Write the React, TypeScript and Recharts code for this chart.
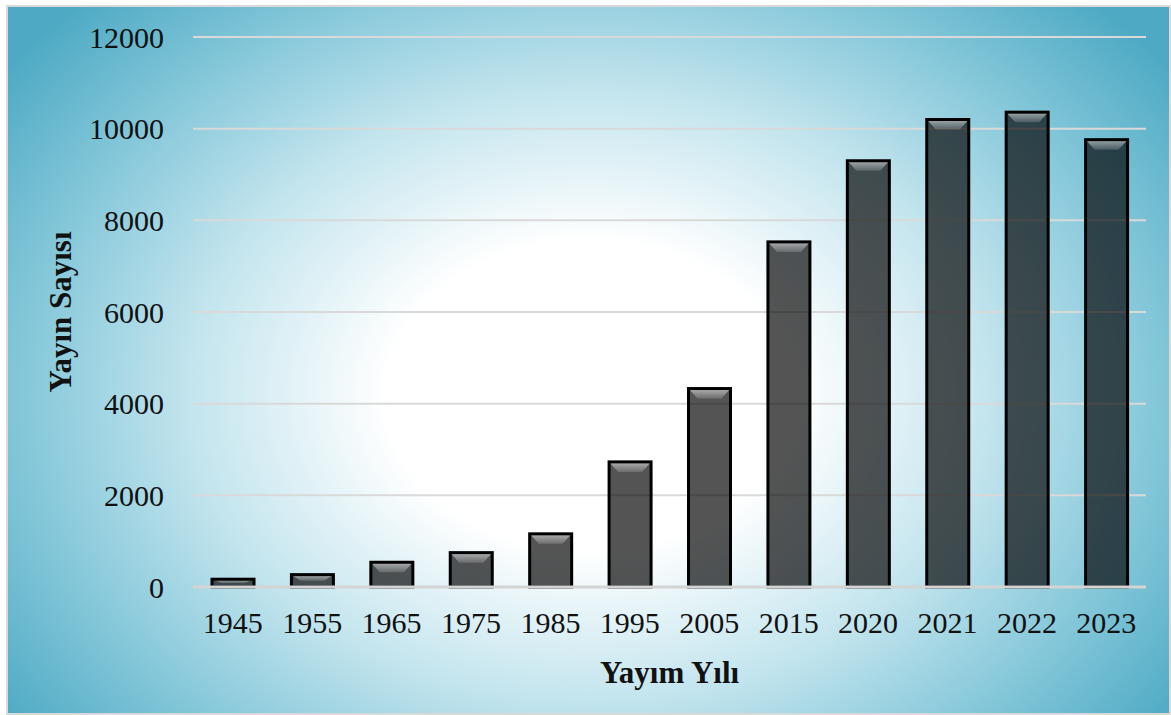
import React from "react";
import { BarChart, Bar, XAxis, YAxis, CartesianGrid, Label } from "recharts";

const years = ["1945", "1955", "1965", "1975", "1985", "1995", "2005", "2015", "2020", "2021", "2022", "2023"];
const counts = [170, 270, 540, 750, 1160, 2730, 4330, 7530, 9300, 10200, 10360, 9760];
const yTicks = [0, 2000, 4000, 6000, 8000, 10000, 12000];

const data = years.map((year, i) => ({ year, count: counts[i] }));

const FONT = "'Liberation Serif', 'Times New Roman', serif";

// Translucent dark column with a bevelled highlight along its top edge
const BevelBar = (props: any) => {
  const { x, y, width, height } = props;
  if (!height || height <= 0) return null;
  const bevel = Math.min(10, height / 2);
  const inset = Math.min(9, width / 4);
  return (
    <g>
      <rect x={x} y={y} width={width} height={height} fill="rgba(0,0,0,0.67)" />
      <polygon
        points={`${x},${y} ${x + width},${y} ${x + width - inset},${y + bevel} ${x + inset},${y + bevel}`}
        fill="url(#bevelGrad)"
      />
      <rect x={x} y={y} width={width} height={height} fill="none" stroke="#000" strokeWidth={3} />
    </g>
  );
};

export default function App() {
  return (
    <div
      style={{
        position: "absolute",
        left: 0,
        top: 0,
        width: 1171,
        height: 715,
        background: "#ffffff",
      }}
    >
      <div
        style={{
          position: "absolute",
          left: 6,
          top: 5,
          width: 1165,
          height: 710,
          boxSizing: "border-box",
          border: "2px solid #d9d9d9",
          background:
            "radial-gradient(ellipse 62% 78% at 50% 55%, #ffffff 0%, #ffffff 28%, #c4e5ee 55%, #86c8da 78%, #4eaac4 100%)",
        }}
      />
      <div style={{ position: "absolute", left: 0, top: 0 }}>
        <BarChart
          width={1171}
          height={715}
          data={data}
          margin={{ top: 37, right: 25, bottom: 18, left: 0 }}
          barSize={42}
        >
          <defs>
            <linearGradient id="bevelGrad" x1="0" y1="0" x2="0" y2="1">
              <stop offset="0%" stopColor="#ffffff" stopOpacity={0.55} />
              <stop offset="100%" stopColor="#ffffff" stopOpacity={0.15} />
            </linearGradient>
          </defs>
          <CartesianGrid vertical={false} stroke="#d9d9d9" strokeWidth={2} />
          <XAxis
            dataKey="year"
            height={110}
            tickSize={0}
            tickMargin={25}
            axisLine={{ stroke: "#d4d4d4", strokeWidth: 3 }}
            tick={{ fill: "#111", fontSize: 30, fontFamily: FONT }}
            interval={0}
          >
            <Label
              value="Yayım Yılı"
              position="insideBottom"
              offset={14}
              style={{ fill: "#111", fontSize: 31, fontWeight: "bold", fontFamily: FONT }}
            />
          </XAxis>
          <YAxis
            width={193}
            domain={[0, 12000]}
            ticks={yTicks}
            tickSize={0}
            tickMargin={29}
            axisLine={false}
            tick={{ fill: "#111", fontSize: 30, fontFamily: FONT }}
          >
            <Label
              value="Yayın Sayısı"
              angle={-90}
              position="insideLeft"
              offset={60}
              style={{ fill: "#111", fontSize: 31, fontWeight: "bold", fontFamily: FONT, textAnchor: "middle" }}
            />
          </YAxis>
          <Bar dataKey="count" shape={BevelBar} isAnimationActive={false} />
        </BarChart>
      </div>
    </div>
  );
}
